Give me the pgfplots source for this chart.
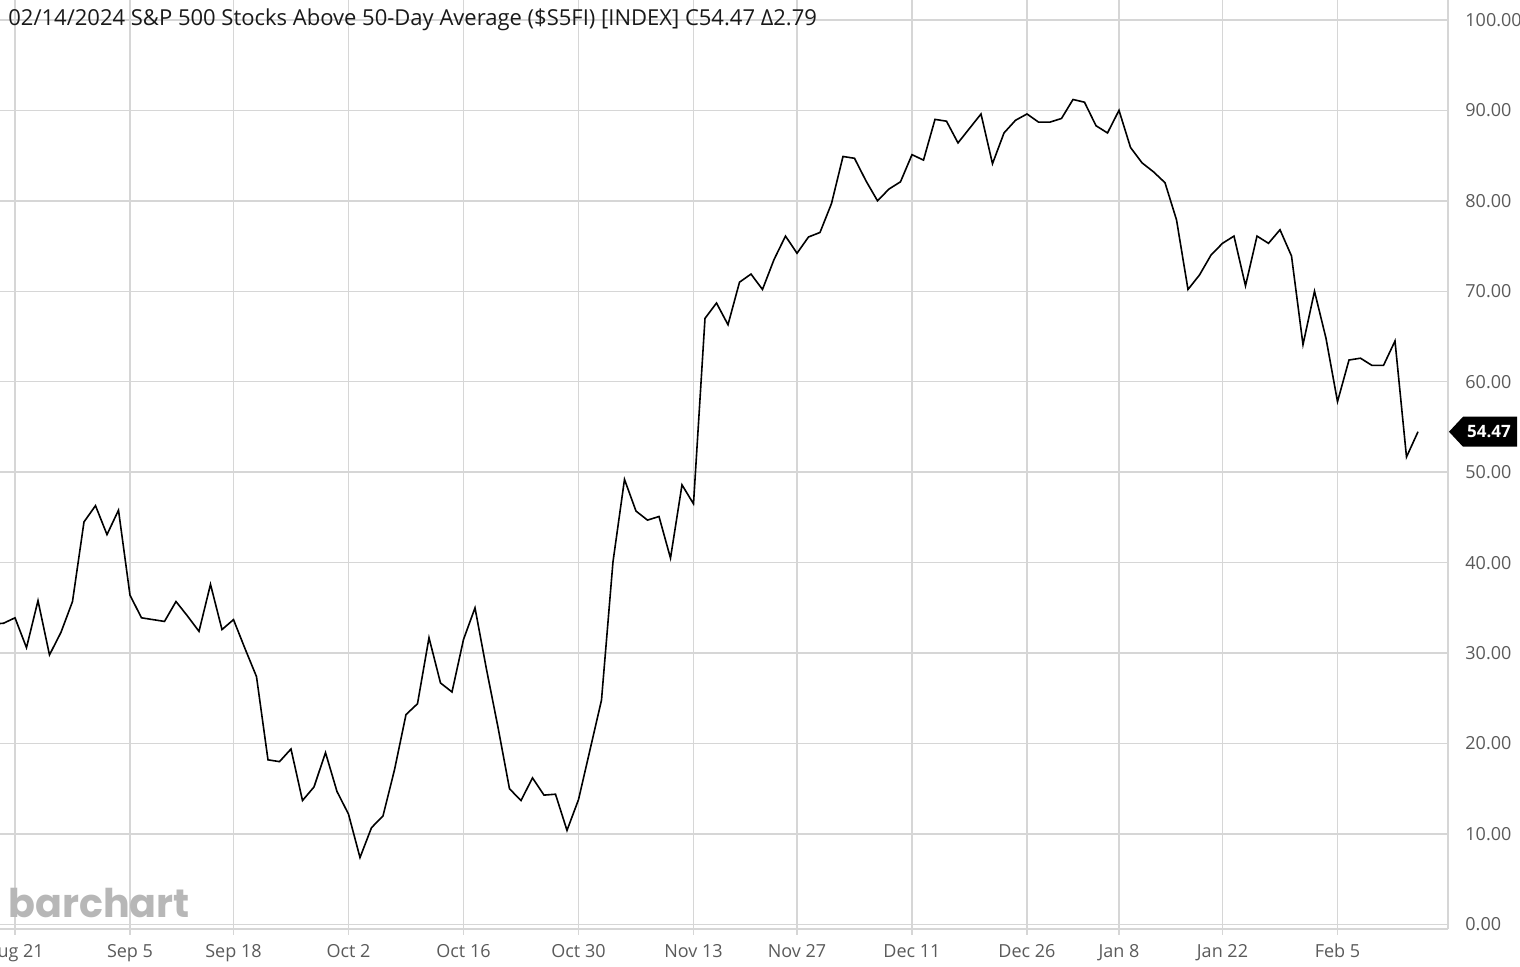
\documentclass[border=0pt]{standalone}
\usepackage{pgfplots}
\pgfplotsset{compat=1.18}
\usepackage{fontspec}
\setmainfont{Open Sans}
\newfontfamily\wmfont{Poppins}
\definecolor{gridc}{RGB}{214,214,214}
\definecolor{labc}{RGB}{90,90,90}
\definecolor{titc}{RGB}{25,25,25}
\definecolor{wmc}{RGB}{183,183,183}
\pgfplotstableread{
x y
-2 33.2
-1 33.3
0 33.9
1 30.6
2 35.8
3 29.8
4 32.3
5 35.7
6 44.5
7 46.3
8 43.1
9 45.8
10 36.4
11 33.9
12 33.7
13 33.5
14 35.7
15 34.1
16 32.4
17 37.6
18 32.6
19 33.7
20 30.5
21 27.4
22 18.2
23 18.0
24 19.4
25 13.7
26 15.2
27 19.0
28 14.7
29 12.2
30 7.4
31 10.7
32 12.0
33 17.1
34 23.2
35 24.4
36 31.7
37 26.7
38 25.7
39 31.5
40 35.0
41 28.2
42 21.8
43 15.0
44 13.7
45 16.2
46 14.3
47 14.4
48 10.4
49 13.8
50 19.3
51 24.8
52 40.1
53 49.2
54 45.7
55 44.7
56 45.1
57 40.5
58 48.6
59 46.5
60 67.0
61 68.7
62 66.3
63 71.0
64 71.9
65 70.2
66 73.5
67 76.1
68 74.2
69 76.0
70 76.5
71 79.7
72 84.9
73 84.7
74 82.2
75 80.0
76 81.3
77 82.1
78 85.1
79 84.5
80 89.0
81 88.8
82 86.4
83 88.0
84 89.6
85 84.1
86 87.5
87 88.9
88 89.6
89 88.7
90 88.7
91 89.1
92 91.2
93 90.9
94 88.3
95 87.5
96 90.0
97 85.9
98 84.2
99 83.2
100 82.0
101 77.9
102 70.2
103 71.8
104 74.0
105 75.3
106 76.1
107 70.6
108 76.1
109 75.3
110 76.8
111 73.9
112 64.1
113 70.0
114 64.8
115 57.8
116 62.4
117 62.6
118 61.8
119 61.8
120 64.5
121 51.68
122 54.47
}\datatable
\begin{document}
\begin{tikzpicture}
\useasboundingbox (0,-19pt) rectangle (760pt,464.5pt);
\begin{axis}[
  at={(0,0)}, anchor=south west, scale only axis,
  width=724pt, height=464.5pt,
  xmin=-1.304, xmax=124.61, ymin=-0.5, ymax=102.2,
  axis x line*=bottom, axis y line*=right,
  axis line style={draw=gridc, line width=0.75pt},
  grid=major, grid style={draw=gridc, line width=0.75pt},
  xtick={0,10,19,29,39,49,59,68,78,88,96,105,115},
  xticklabels={Aug 21,Sep 5,Sep 18,Oct 2,Oct 16,Oct 30,Nov 13,Nov 27,Dec 11,Dec 26,Jan 8,Jan 22,Feb 5},
  ytick={0,10,20,30,40,50,60,70,80,90,100},
  yticklabels={0.00,10.00,20.00,30.00,40.00,50.00,60.00,70.00,80.00,90.00,100.00},
  tick align=outside, major tick length=3pt,
  xtick style={draw=gridc, line width=0.75pt},
  ytick style={draw=none},
  xticklabel style={font=\fontsize{9}{9}\selectfont, text=labc, anchor=base, inner sep=0pt, yshift=-11.5pt},
  yticklabel style={font=\fontsize{9}{9}\selectfont, text=labc, anchor=west, inner sep=0pt, xshift=5.5pt},
  clip=true,
]
\addplot[black, line width=0.8pt] table[x=x,y=y] {\datatable};
\coordinate (last) at (axis cs:124.61,54.47);
\end{axis}
\node[anchor=base west, font=\fontsize{11}{12}\selectfont, text=titc, inner sep=0pt] at (4pt,451.5pt) {02/14/2024 S\&P 500 Stocks Above 50-Day Average (\$S5FI) [INDEX] C54.47 Δ2.79};
\node[anchor=base west, font=\wmfont\bfseries\fontsize{19.8}{20}\selectfont, text=wmc, inner sep=0pt] at (4pt,5.5pt) {barchart};
\fill[black] ([xshift=0.5pt]last) -- ++(7pt,7.5pt) -- ++(27pt,0) -- ++(0,-15pt) -- ++(-27pt,0) -- cycle;
\node[font=\bfseries\fontsize{8.5}{9}\selectfont, text=white, inner sep=0pt] at ([xshift=20.5pt]last) {54.47};
\end{tikzpicture}
\end{document}
